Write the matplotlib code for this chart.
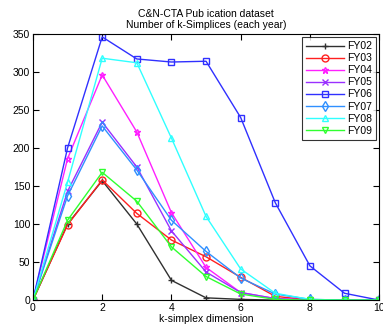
import matplotlib
matplotlib.use("Agg")
import matplotlib.pyplot as plt

plt.rcParams['font.family'] = ['Liberation Sans', 'DejaVu Sans']

k = [0, 1, 2, 3, 4, 5, 6, 7, 8, 9, 10]
series_names = ["FY02", "FY03", "FY04", "FY05", "FY06", "FY07", "FY08", "FY09"]
fy02 = [0, 100, 157, 100, 26, 3, 1, 0, 0, 0, 0]
fy03 = [0, 99, 158, 114, 79, 57, 30, 5, 0, 0, 0]
fy04 = [0, 186, 296, 221, 115, 43, 10, 2, 0, 0, 0]
fy05 = [0, 143, 234, 175, 91, 37, 10, 2, 0, 0, 0]
fy06 = [0, 200, 346, 317, 313, 314, 240, 128, 45, 9, 0]
fy07 = [0, 137, 229, 171, 105, 64, 29, 8, 1, 0, 0]
fy08 = [0, 155, 318, 312, 213, 110, 41, 9, 1, 0, 0]
fy09 = [0, 105, 168, 130, 70, 31, 8, 1, 0, 0, 0]
xticks = [0, 2, 4, 6, 8, 10]
yticks = [0, 50, 100, 150, 200, 250, 300, 350]

data = [fy02, fy03, fy04, fy05, fy06, fy07, fy08, fy09]
colors = ["#303030", "#ff2020", "#ff20ff", "#9a30ff", "#3030ff", "#3090ff", "#30ffff", "#30ff30"]
markers = ["+", "o", "*", "x", "s", "d", "^", "v"]

fig = plt.figure(figsize=(3.83, 3.32), dpi=100)
ax = fig.add_axes([0.086, 0.096, 0.904, 0.802])
for name, ys, c, m in zip(series_names, data, colors, markers):
    ax.plot(k, ys, color=c, marker=m, markersize=5, markerfacecolor='none',
            markeredgecolor=c, markeredgewidth=1.0, linewidth=1.0, label=name)

ax.set_xlim(0, 10)
ax.set_ylim(0, 350)
ax.set_xticks(xticks)
ax.set_yticks(yticks)
ax.tick_params(direction='in', top=True, right=True, labelsize=7.5, length=4, pad=2)
ax.set_xlabel("k-simplex dimension", fontsize=7.5, labelpad=1)
ax.set_title("C&N-CTA Pub ication dataset\nNumber of k-Simplices (each year)", fontsize=7.5, pad=4)
leg = ax.legend(loc='upper right', fontsize=7.5, frameon=True, fancybox=False,
                edgecolor='black', handlelength=3.6, labelspacing=0.2, borderpad=0.4,
                handletextpad=0.3, borderaxespad=0.3)
leg.get_frame().set_linewidth(0.8)
fig.savefig("out.png", dpi=100)
